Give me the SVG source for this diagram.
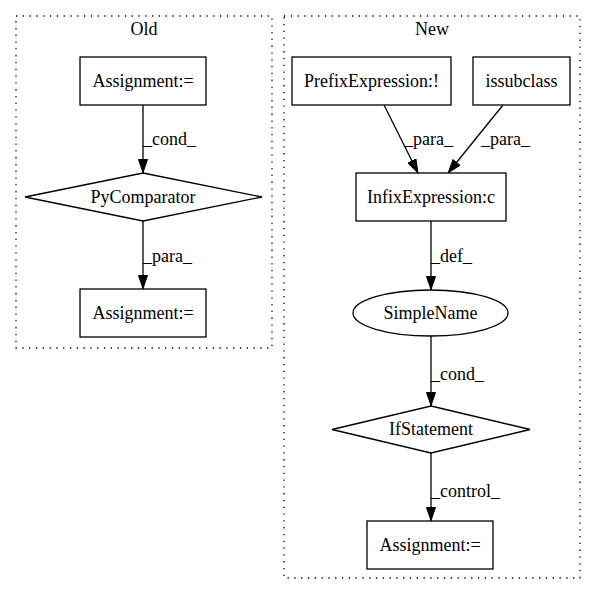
<svg xmlns="http://www.w3.org/2000/svg" width="596" height="596" viewBox="0 0 596 596">
<style>
text{font-family:"Liberation Serif","Times New Roman",serif;font-size:18px;fill:#000}
.c{fill:none;stroke:#000;stroke-width:1.3;stroke-dasharray:1.3,5.5}
.n{fill:#fff;stroke:#000;stroke-width:1.3}
.e{fill:none;stroke:#000;stroke-width:1.3}
.m{text-anchor:middle}
</style>
<defs>
<marker id="a" markerWidth="14" markerHeight="10" refX="14" refY="5" orient="auto" markerUnits="userSpaceOnUse">
<path d="M0.5,0.5 L13.5,5 L0.5,9.5 z" fill="#000" stroke="#000"/>
</marker>
</defs>
<rect width="596" height="596" fill="#fff"/>
<g id="cluster_old">
<rect class="c" x="16" y="16" width="256" height="332"/>
<text class="m" x="144" y="35">Old</text>
</g>
<g id="cluster_new">
<rect class="c" x="284" y="16" width="296" height="562"/>
<text class="m" x="432" y="35">New</text>
</g>
<g id="old_assign1">
<rect class="n" x="80" y="57" width="126" height="48"/>
<text class="m" x="143" y="87">Assignment:=</text>
</g>
<g id="old_pycomp">
<polygon class="n" points="143,173 262,197 143,221 25,197"/>
<text class="m" x="143" y="203">PyComparator</text>
</g>
<g id="old_assign2">
<rect class="n" x="80" y="289" width="126" height="48"/>
<text class="m" x="143" y="319">Assignment:=</text>
</g>
<g id="new_prefix">
<rect class="n" x="292" y="57" width="159" height="48"/>
<text class="m" x="371.5" y="87">PrefixExpression:!</text>
</g>
<g id="new_issubclass">
<rect class="n" x="473" y="57" width="97" height="48"/>
<text class="m" x="521.5" y="87">issubclass</text>
</g>
<g id="new_infix">
<rect class="n" x="356" y="173" width="150" height="48"/>
<text class="m" x="431" y="203">InfixExpression:c</text>
</g>
<g id="new_simplename">
<ellipse class="n" cx="430.5" cy="313" rx="77.5" ry="23"/>
<text class="m" x="430.5" y="319">SimpleName</text>
</g>
<g id="new_if">
<polygon class="n" points="431,406 530,429.5 431,453 332,429.5"/>
<text class="m" x="431" y="435">IfStatement</text>
</g>
<g id="new_assign">
<rect class="n" x="367" y="521" width="126" height="48"/>
<text class="m" x="430" y="551">Assignment:=</text>
</g>
<g id="edges">
<path class="e" d="M143,105 L143,173" marker-end="url(#a)"/>
<text x="143" y="145">_cond_</text>
<path class="e" d="M143,221 L143,289" marker-end="url(#a)"/>
<text x="143" y="262">_para_</text>
<path class="e" d="M384,105 L418,173" marker-end="url(#a)"/>
<text x="404" y="145">_para_</text>
<path class="e" d="M503,105 L448,173" marker-end="url(#a)"/>
<text x="481" y="145">_para_</text>
<path class="e" d="M431,221 L431,290" marker-end="url(#a)"/>
<text x="431" y="262">_def_</text>
<path class="e" d="M431,336 L431,406" marker-end="url(#a)"/>
<text x="431" y="380">_cond_</text>
<path class="e" d="M431,453 L431,521" marker-end="url(#a)"/>
<text x="431" y="497">_control_</text>
</g>
</svg>
